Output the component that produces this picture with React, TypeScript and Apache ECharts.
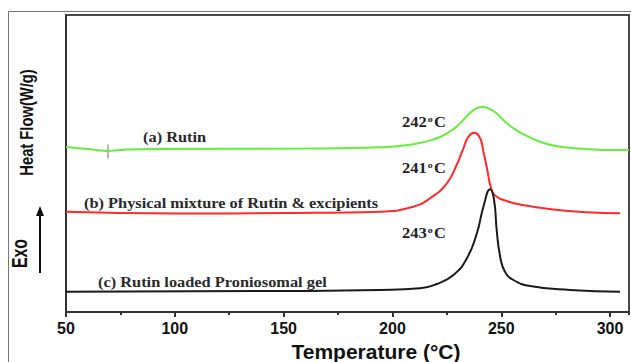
import React, { useEffect, useRef } from 'react';
import * as echarts from 'echarts';

// (a) Rutin
const tempsA = [50, 60, 66, 69.3, 75, 90, 160, 194.3, 209.6, 220.4, 225, 229.4, 235.5, 238.6, 241.6, 244.7, 247.8, 252.5, 258.6, 263.2, 266.3, 273.9, 281.6, 289.3, 300, 308.7];
const heatA = [1.65, 1.63, 1.615, 1.61, 1.62, 1.63, 1.635, 1.647, 1.677, 1.737, 1.787, 1.853, 1.987, 2.037, 2.05, 2.03, 1.987, 1.887, 1.797, 1.747, 1.715, 1.665, 1.643, 1.63, 1.62, 1.62];
// (b) Physical mixture
const tempsB = [50, 100, 150, 194.3, 209.5, 217.3, 225, 229.5, 232.6, 234.9, 237.6, 240.3, 241.8, 243.3, 245.6, 247.9, 252.5, 258.6, 273.9, 289.3, 304.6];
const heatB = [1.003, 0.985, 0.99, 1.003, 1.053, 1.137, 1.287, 1.47, 1.637, 1.753, 1.793, 1.737, 1.603, 1.453, 1.22, 1.153, 1.11, 1.075, 1.025, 0.997, 0.987];
// (c) Proniosomal gel
const tempsC = [50, 150, 194.3, 212.7, 220.4, 228, 234.2, 238.8, 241.8, 244.9, 246.7, 247.9, 249.5, 251.7, 255.6, 263.2, 281.6, 304.6];
const heatC = [0.203, 0.21, 0.22, 0.237, 0.28, 0.37, 0.537, 0.787, 1.053, 1.227, 1.12, 0.82, 0.553, 0.403, 0.32, 0.26, 0.22, 0.203];

const markA = [[69.3, 1.605]];
const curveLabels = ['(a) Rutin', '(b) Physical mixture of Rutin & excipients', '(c) Rutin loaded Proniosomal gel'];
const peakLabels = ['242', '241', '243'];
const xMin = 50;
const xMax = 308.7;

const pair = (t: number[], v: number[]) => t.map((x, i) => [x, v[i]]);

export default function App() {
  const ref = useRef<HTMLDivElement>(null);
  useEffect(() => {
    const chart = echarts.init(ref.current as HTMLDivElement, null, { renderer: 'svg' });
    const serif = 'Liberation Serif';
    const sans = 'Liberation Sans';
    const labelStyle = (text: string, x: number, y: number) => ({
      type: 'text', x, y, scaleX: 1.17,
      style: { text, fontFamily: serif, fontWeight: 'bold', fontSize: 14, fill: '#2a2a2a', align: 'left', verticalAlign: 'middle' },
    });
    const peakStyle = (t: string, x: number, y: number) => ({
      type: 'text', x, y, scaleX: 1.1,
      style: {
        text: t + '{s|o}C', fontFamily: serif, fontWeight: 'bold', fontSize: 15, fill: '#222', align: 'left', verticalAlign: 'middle',
        rich: { s: { fontFamily: serif, fontWeight: 'bold', fontSize: 9, fill: '#222', verticalAlign: 'top', padding: [0, 1, 5, 1] } },
      },
    });
    chart.setOption({
      animation: false,
      backgroundColor: '#ffffff',
      grid: { left: 66, right: 2, top: 15, bottom: 50, show: true, borderColor: '#4a4a4a', borderWidth: 2, backgroundColor: 'transparent', outerBoundsMode: 'none', containLabel: false },
      xAxis: [
        {
          type: 'value', min: xMin, max: xMax, interval: 50,
          axisLine: { show: true, lineStyle: { color: '#333', width: 2 } },
          axisTick: { show: true, length: 5, lineStyle: { color: '#333', width: 2 } },
          splitLine: { show: false },
          axisLabel: {
            showMaxLabel: false,
            formatter: (v: number) => (v % 50 === 0 ? String(v) : ''),
            color: '#111', fontFamily: sans, fontWeight: 'bold', fontSize: 16, margin: 8,
          },
          name: 'Temperature (°C)', nameLocation: 'middle', nameGap: 27,
          nameTextStyle: { fontFamily: sans, fontWeight: 'bold', fontSize: 21, lineHeight: 21, color: '#111', padding: [0, 0, 0, 57] },
        },
        {
          type: 'value', min: xMin, max: xMax, interval: 25, position: 'bottom',
          axisLine: { show: false },
          axisTick: { show: true, length: 3, lineStyle: { color: '#333', width: 2 } },
          axisLabel: { show: false }, splitLine: { show: false },
        },
      ],
      yAxis: {
        type: 'value', min: 0, max: 2.97,
        axisLine: { show: true, lineStyle: { color: '#333', width: 2 } },
        axisTick: { show: false }, axisLabel: { show: false }, splitLine: { show: false },
      },
      series: [
        { type: 'line', name: '(a)', data: pair(tempsA, heatA), xAxisIndex: 0, showSymbol: false, smooth: 0.5, lineStyle: { color: '#62ef3c', width: 2 } },
        { type: 'line', name: '(b)', data: pair(tempsB, heatB), xAxisIndex: 0, showSymbol: false, smooth: 0.5, lineStyle: { color: '#ff2a2a', width: 2 } },
        { type: 'line', name: '(c)', data: pair(tempsC, heatC), xAxisIndex: 0, showSymbol: false, smooth: 0.5, lineStyle: { color: '#1a1a1a', width: 2 } },
        { type: 'scatter', data: markA, xAxisIndex: 0, symbol: 'rect', symbolSize: [1.5, 14], itemStyle: { color: '#888' } },
      ],
      graphic: [
        { type: 'polyline', shape: { points: [[8.5, 362], [8.5, 11.5], [631, 11.5]] }, style: { stroke: '#777', lineWidth: 1, fill: 'none' } },
        {
          type: 'text', x: 26, y: 122.5, rotation: Math.PI / 2, scaleX: 0.82,
          style: { text: 'Heat Flow(W/g)', fontFamily: sans, fontWeight: 'bold', fontSize: 18, fill: '#111', align: 'center', verticalAlign: 'middle' },
        },
        {
          type: 'text', x: 20, y: 253.5, rotation: Math.PI / 2, scaleX: 0.72,
          style: { text: 'Exo', fontFamily: sans, fontWeight: 'bold', fontSize: 22, fill: '#111', align: 'center', verticalAlign: 'middle' },
        },
        { type: 'line', shape: { x1: 40, y1: 273, x2: 40, y2: 214 }, style: { stroke: '#111', lineWidth: 2 } },
        { type: 'polygon', shape: { points: [[40, 206], [36, 216], [44, 216]] }, style: { fill: '#111' } },
        labelStyle(curveLabels[0], 143, 137),
        labelStyle(curveLabels[1], 84, 203),
        labelStyle(curveLabels[2], 98, 282),
        peakStyle(peakLabels[0], 402, 122),
        peakStyle(peakLabels[1], 402, 168),
        peakStyle(peakLabels[2], 402, 233),
      ],
    });
    return () => chart.dispose();
  }, []);
  return <div ref={ref} style={{ position: 'fixed', left: 0, top: 0, width: 631, height: 362 }} />;
}
